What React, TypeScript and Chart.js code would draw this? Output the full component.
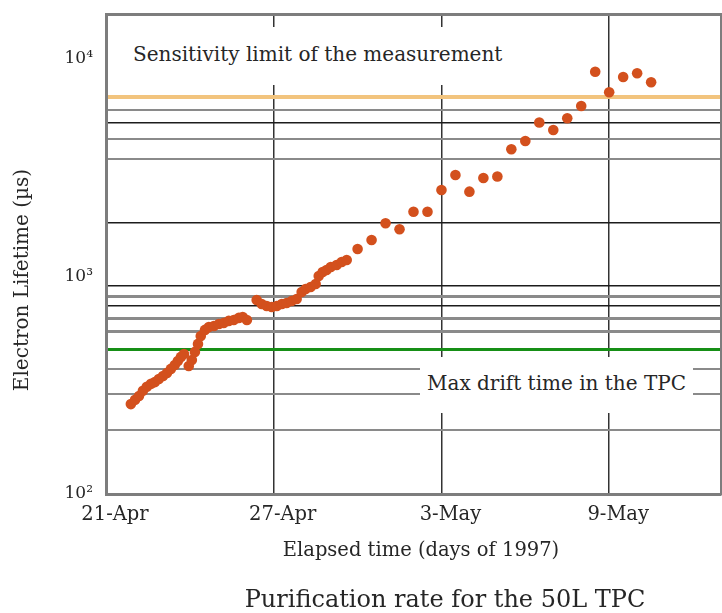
import React, { useEffect, useRef } from 'react';
import { Chart, registerables } from 'chart.js';

Chart.register(...registerables);

// Elapsed days since 21-Apr-1997
const days = [
  0.89, 1.04, 1.18, 1.32, 1.46, 1.61, 1.75, 1.89, 2.04, 2.18,
  2.32, 2.46, 2.57, 2.68, 2.79, 2.96, 3.07, 3.18, 3.29, 3.39,
  3.54, 3.68, 3.86, 4.04, 4.21, 4.39, 4.57, 4.75, 4.89, 5.04,
  5.39, 5.57, 5.75, 5.93, 6.11, 6.29, 6.46, 6.64, 6.82, 7.0,
  7.14, 7.32, 7.5, 7.61, 7.75, 7.89, 8.04, 8.25, 8.43, 8.61,
  9.0, 9.5, 10.0, 10.5, 11.0, 11.5, 12.0, 12.5, 13.0, 13.5,
  14.0, 14.5, 15.0, 15.5, 16.0, 16.5, 17.0, 17.5, 18.0, 18.5,
  19.0, 19.5,
];

// Electron lifetime (µs)
const lifetimes = [
  259, 271, 282, 298, 311, 321, 327, 338, 349, 360,
  376, 392, 409, 427, 440, 388, 413, 450, 490, 533,
  568, 586, 592, 605, 611, 625, 631, 645, 651, 631,
  780, 747, 732, 724, 732, 747, 755, 772, 788, 849,
  876, 895, 924, 1005, 1049, 1071, 1106, 1129, 1166, 1191,
  1338, 1472, 1756, 1648, 1986, 1986, 2499, 2930, 2455, 2838,
  2883, 3845, 4198, 5105, 4716, 5339, 6080, 8743, 7029, 8264,
  8598, 7815,
];

const xTickDays = [0, 6, 12, 18];
const xTickLabels = ['21-Apr', '27-Apr', '3-May', '9-May'];

const yLabelValues = [100, 1000, 10000];
const yLabelTexts = ['10²', '10³', '10⁴'];

// Horizontal reference lines (µs) and their kind
const refLineValues = [6709, 5830, 5078, 4287, 3469, 1762, 904, 805, 732, 638, 556, 464, 375, 288, 197];
const refLineKinds = [
  'sensitivity', 'gray', 'black', 'gray', 'gray', 'black', 'black', 'grayThick',
  'black', 'grayThick', 'grayThick', 'drift', 'gray', 'gray', 'gray',
];

const lineStyles: Record<string, { color: string; width: number }> = {
  sensitivity: { color: '#F2C47E', width: 4 },
  drift: { color: '#168F16', width: 3 },
  black: { color: '#1c1c1c', width: 1.6 },
  gray: { color: '#8a8a8a', width: 2 },
  grayThick: { color: '#8a8a8a', width: 3 },
};

const SERIF = '"DejaVu Serif", serif';
const FRAME = '#7d7d7d';

const zeroPad = (axis: any) => {
  axis.paddingTop = 0;
  axis.paddingBottom = 0;
  axis.paddingLeft = 0;
  axis.paddingRight = 0;
};

export default function App() {
  const canvasRef = useRef<HTMLCanvasElement | null>(null);

  useEffect(() => {
    if (!canvasRef.current) return;
    const styleFor = (v: number) => {
      const i = refLineValues.indexOf(v);
      return i >= 0 ? lineStyles[refLineKinds[i]] : null;
    };
    const chart = new Chart(canvasRef.current, {
      type: 'scatter',
      data: {
        datasets: [
          {
            data: days.map((d, i) => ({ x: d, y: lifetimes[i] })),
            backgroundColor: '#D3501D',
            borderWidth: 0,
            pointRadius: 5.3,
            pointHoverRadius: 5.3,
          },
        ],
      },
      options: {
        responsive: false,
        animation: false,
        layout: { autoPadding: false, padding: { top: 14, right: 1, bottom: 0, left: 0 } },
        plugins: { legend: { display: false }, tooltip: { enabled: false } },
        scales: {
          x: {
            type: 'linear',
            position: 'bottom',
            min: 0,
            max: 22,
            afterBuildTicks: (axis: any) => {
              axis.ticks = xTickDays.map((v) => ({ value: v }));
            },
            afterFit: (axis: any) => {
              axis.height = 119;
              zeroPad(axis);
            },
            ticks: {
              autoSkip: false,
              maxRotation: 0,
              padding: 9,
              labelOffset: 9,
              color: '#262626',
              font: { family: SERIF, size: 19.5 },
              callback: (v: any) => {
                const i = xTickDays.indexOf(Number(v));
                return i >= 0 ? xTickLabels[i] : '';
              },
            },
            grid: {
              drawTicks: false,
              color: (ctx: any) => (ctx.tick && ctx.tick.value === 0 ? 'rgba(0,0,0,0)' : '#333333'),
              lineWidth: 1.5,
            },
            border: { color: FRAME, width: 3 },
          },
          xTop: {
            type: 'linear',
            position: 'top',
            min: 0,
            max: 22,
            afterFit: (axis: any) => {
              axis.height = 0;
              zeroPad(axis);
            },
            ticks: { display: false },
            grid: { display: false },
            border: { color: FRAME, width: 3 },
          },
          y: {
            type: 'logarithmic',
            position: 'left',
            min: 100,
            max: 16100,
            afterBuildTicks: (axis: any) => {
              const vals = [...yLabelValues, ...refLineValues].sort((a, b) => a - b);
              axis.ticks = vals.map((v) => ({ value: v }));
            },
            afterFit: (axis: any) => {
              axis.width = 106;
              zeroPad(axis);
            },
            ticks: {
              autoSkip: false,
              padding: 13,
              color: '#262626',
              font: { family: SERIF, size: 17 },
              callback: (v: any) => {
                const i = yLabelValues.indexOf(Number(v));
                return i >= 0 ? yLabelTexts[i] : '';
              },
            },
            grid: {
              drawTicks: false,
              color: (ctx: any) => {
                const s = ctx.tick ? styleFor(ctx.tick.value) : null;
                return s ? s.color : 'rgba(0,0,0,0)';
              },
              lineWidth: (ctx: any) => {
                const s = ctx.tick ? styleFor(ctx.tick.value) : null;
                return s ? s.width : 0;
              },
            },
            border: { color: FRAME, width: 3 },
          },
          yRight: {
            type: 'linear',
            position: 'right',
            afterFit: (axis: any) => {
              axis.width = 0;
              zeroPad(axis);
            },
            ticks: { display: false },
            grid: { display: false },
            border: { color: FRAME, width: 3 },
          },
        },
      } as any,
    });
    return () => chart.destroy();
  }, []);

  const text: React.CSSProperties = {
    position: 'absolute',
    fontFamily: SERIF,
    color: '#262626',
    whiteSpace: 'nowrap',
  };

  return (
    <div style={{ position: 'absolute', left: 0, top: 0, width: 722, height: 613, background: '#fff', overflow: 'hidden' }}>
      <canvas ref={canvasRef} width={722} height={613} style={{ display: 'block', width: 722, height: 613 }} />
      <div style={{ position: 'absolute', left: 109, top: 27, width: 410, height: 58, background: '#fff' }} />
      <div style={{ ...text, left: 133, top: 43, fontSize: 20, lineHeight: '22px' }}>Sensitivity limit of the measurement</div>
      <div style={{ position: 'absolute', left: 420, top: 357, width: 273, height: 56, background: '#fff' }} />
      <div style={{ ...text, left: 427, top: 372, fontSize: 20, lineHeight: '22px' }}>Max drift time in the TPC</div>
      <div style={{ ...text, left: 221, top: 539, width: 400, textAlign: 'center', fontSize: 19.5, lineHeight: '22px' }}>
        Elapsed time (days of 1997)
      </div>
      <div style={{ ...text, left: 195, top: 586, width: 500, textAlign: 'center', fontSize: 24, lineHeight: '26px' }}>
        Purification rate for the 50L TPC
      </div>
      <div
        style={{
          ...text,
          left: 21 - 150,
          top: 280 - 11,
          width: 300,
          height: 22,
          textAlign: 'center',
          fontSize: 20,
          lineHeight: '22px',
          transform: 'rotate(-90deg)',
          transformOrigin: '50% 50%',
        }}
      >
        Electron Lifetime (µs)
      </div>
    </div>
  );
}
